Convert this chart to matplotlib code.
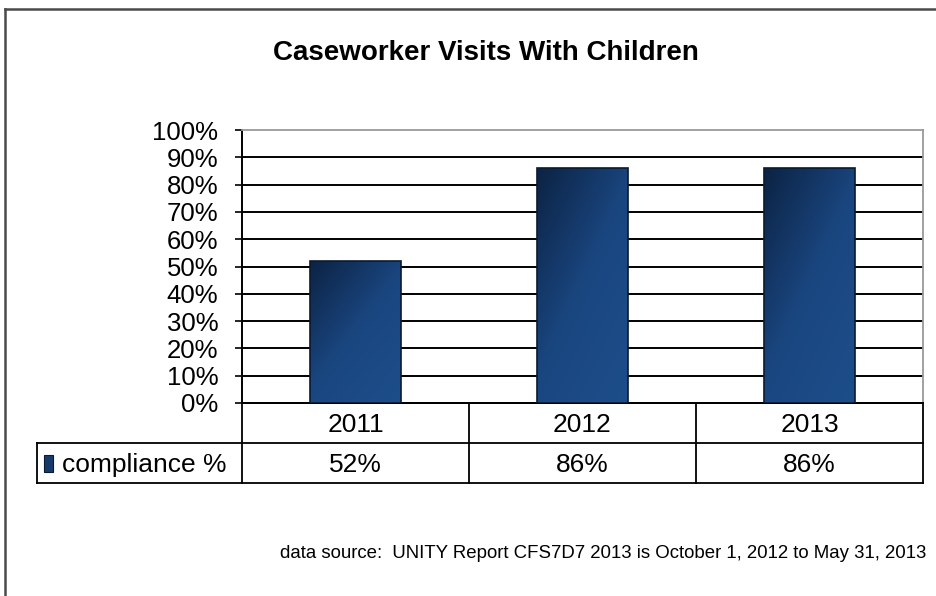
import numpy as np
import matplotlib
matplotlib.use("Agg")
import matplotlib.pyplot as plt
from matplotlib.colors import LinearSegmentedColormap

plt.rcParams['font.family'] = ['Liberation Sans', 'DejaVu Sans']

# Data
years = ["2011", "2012", "2013"]
compliance = [52, 86, 86]
series_name = "compliance %"
title = "Caseworker Visits With Children"
source_note = "data source:  UNITY Report CFS7D7 2013 is October 1, 2012 to May 31, 2013"
yticks = list(range(0, 101, 10))

W, H = 936, 596
fig = plt.figure(figsize=(W / 100, H / 100), dpi=100)

# Pixel-based overlay for frame, title, table and note
ov = fig.add_axes([0, 0, 1, 1], zorder=0)
ov.set_xlim(0, W)
ov.set_ylim(H, 0)
ov.axis("off")

# Plot area geometry (pixels)
L, R, T, B = 242, 923, 130, 403

ax = fig.add_axes([L / W, (H - B) / H, (R - L) / W, (B - T) / H], zorder=2)
ax.patch.set_alpha(0)
x = np.arange(len(years))
bars = ax.bar(x, compliance, width=0.4, color="#163a6a", edgecolor="#0a1a30",
              linewidth=1.2, zorder=3)

# Diagonal gradient fill for each bar
grad_cmap = LinearSegmentedColormap.from_list("navy", ["#0c2344", "#1a4680", "#1d4e8a"])
gx, gy = np.meshgrid(np.linspace(0, 1, 64), np.linspace(0, 1, 256))
grad = (gx * 0.45 + gy * 0.55)
for b in bars:
    x0, y0 = b.get_x(), b.get_y()
    im = ax.imshow(grad, cmap=grad_cmap, origin="upper", aspect="auto",
                   extent=[x0, x0 + b.get_width(), y0, y0 + b.get_height()],
                   zorder=3, interpolation="bilinear")
    im.set_clip_path(b)
    b.set_facecolor("none")
    b.set_zorder(4)

ax.set_xlim(-0.5, len(years) - 0.5)
ax.set_ylim(0, 100)
ax.set_yticks(yticks)
ax.set_yticklabels([f"{v}%" for v in yticks], fontsize=18.5)
ax.set_xticks([])
ax.tick_params(axis="y", length=5, width=1.2, pad=12, colors="black")
for v in yticks[1:-1]:
    ax.axhline(v, color="black", linewidth=1.4, zorder=1)
ax.spines["left"].set_linewidth(1.4)
ax.spines["bottom"].set_linewidth(1.4)
ax.spines["top"].set_color("#9a9a9a")
ax.spines["right"].set_color("#9a9a9a")
ax.spines["top"].set_linewidth(1.3)
ax.spines["right"].set_linewidth(1.3)

# Outer frame
ov.plot([5, W], [9, 9], color="#4a4a4a", linewidth=1.8)
ov.plot([5, 5], [9, H], color="#4a4a4a", linewidth=1.8)

# Title
ov.text(486, 53, title, ha="center", va="center", fontsize=20, fontweight="bold")

# Data table below the plot
row1_top, row_mid, row2_bot = B, 443, 483
tab_left = 37
cell_w = (R - L) / len(years)
lc = "black"
lw = 1.3
ov.plot([L, R], [row1_top, row1_top], color=lc, linewidth=lw)
ov.plot([tab_left, R], [row_mid, row_mid], color=lc, linewidth=lw)
ov.plot([tab_left, R], [row2_bot, row2_bot], color=lc, linewidth=lw)
ov.plot([tab_left, tab_left], [row_mid, row2_bot], color=lc, linewidth=lw)
for i in range(len(years) + 1):
    xv = L + i * cell_w
    ov.plot([xv, xv], [row1_top, row2_bot], color=lc, linewidth=lw)

for i, (yr, val) in enumerate(zip(years, compliance)):
    cx = L + (i + 0.5) * cell_w
    ov.text(cx, (row1_top + row_mid) / 2 + 2, yr, ha="center", va="center", fontsize=19)
    ov.text(cx, (row_mid + row2_bot) / 2 + 2, f"{val}%", ha="center", va="center", fontsize=19)

# Legend key in the table
ov.add_patch(plt.Rectangle((44, 455), 9, 17, facecolor="#163a6a",
                           edgecolor="#0a1a30", linewidth=0.8))
ov.text(62, (row_mid + row2_bot) / 2 + 2, series_name, ha="left", va="center", fontsize=19)

# Source note
ov.text(280, 553, source_note, ha="left", va="center", fontsize=13.4)

fig.savefig("out.png", dpi=100)
